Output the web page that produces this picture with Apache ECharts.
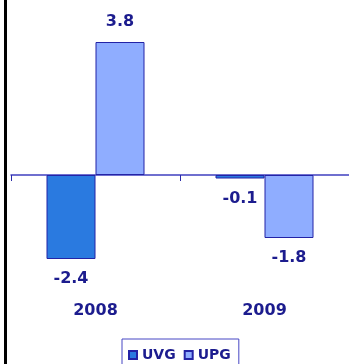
<!DOCTYPE html>
<html>
<head>
<meta charset="utf-8">
<script src="https://cdn.jsdelivr.net/npm/echarts@6/dist/echarts.min.js"></script>
<style>
  html, body { margin: 0; padding: 0; background: #fff; }
  #chart { width: 349px; height: 364px; }
</style>
</head>
<body>
<div id="chart"></div>
<script>
// Year-on-year change by category
const years = ['2008', '2009'];
const uvg = [-2.4, -0.1];
const upg = [3.8, -1.8];

const navy = '#1c1c8e';
const edge = '#2323a6';

function withLabels(values) {
  return values.map(v => ({
    value: v,
    label: { position: v < 0 ? 'bottom' : 'top' }
  }));
}

const boldText = {
  color: navy,
  fontFamily: 'DejaVu Sans',
  fontWeight: 'bold',
  fontSize: 16
};

const labelStyle = Object.assign({
  show: true,
  distance: 12,
  formatter: p => p.value.toFixed(1)
}, boldText);

const chart = echarts.init(document.getElementById('chart'));
chart.setOption({
  animation: false,
  graphic: [{
    type: 'rect',
    shape: { x: 4, y: 0, width: 3, height: 364 },
    style: { fill: '#000' }
  }],
  legend: {
    left: 122,
    top: 339,
    orient: 'horizontal',
    icon: 'rect',
    itemWidth: 8,
    itemHeight: 8,
    itemGap: 8,
    padding: [9, 8, 9, 6],
    borderColor: '#4646c4',
    borderWidth: 1,
    textStyle: {
      color: navy,
      fontFamily: 'DejaVu Sans',
      fontWeight: 'bold',
      fontSize: 14
    },
    data: ['UVG', 'UPG']
  },
  grid: {
    left: 11, right: 0, top: 35, height: 262.5,
    containLabel: false,
    outerBoundsMode: 'none'
  },
  xAxis: [
    {
      // zero baseline with category boundary ticks
      type: 'category',
      data: years,
      axisLine: { onZero: true, lineStyle: { color: '#4040c0', width: 1.5 } },
      axisTick: { show: true, length: 6, lineStyle: { color: '#2a2aa8', width: 1 } },
      axisLabel: { show: false }
    },
    {
      // year labels along the bottom
      type: 'category',
      data: years,
      position: 'bottom',
      axisLine: { show: false, onZero: false },
      axisTick: { show: false },
      axisLabel: Object.assign({ margin: 5 }, boldText)
    }
  ],
  yAxis: {
    type: 'value',
    min: -3.5,
    max: 4,
    show: false,
    splitLine: { show: false }
  },
  series: [
    {
      name: 'UVG',
      type: 'bar',
      xAxisIndex: 0,
      barWidth: 49,
      barGap: 0,
      itemStyle: { color: '#2a7ae0', borderColor: edge, borderWidth: 1 },
      label: labelStyle,
      data: withLabels(uvg)
    },
    {
      name: 'UPG',
      type: 'bar',
      xAxisIndex: 0,
      barWidth: 49,
      barGap: 0,
      itemStyle: { color: '#8fadff', borderColor: edge, borderWidth: 1 },
      label: labelStyle,
      data: withLabels(upg)
    }
  ]
});
</script>
</body>
</html>
